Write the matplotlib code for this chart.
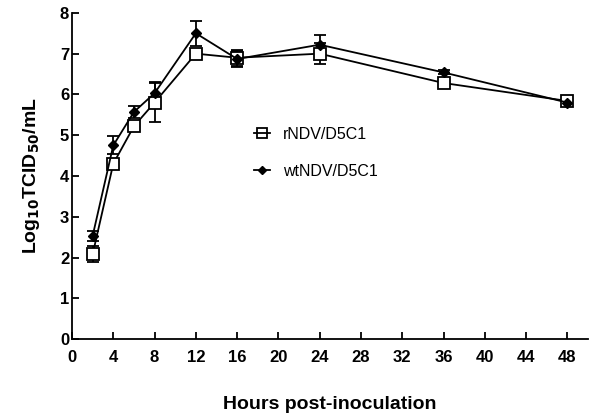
import matplotlib
matplotlib.use('Agg')
import matplotlib.pyplot as plt

plt.rcParams['font.family'] = ['Liberation Sans', 'DejaVu Sans']

# 시간 (hours post-inoculation)
hours = [2, 4, 6, 8, 12, 16, 24, 36, 48]

# rNDV/D5C1
r_mean = [2.08, 4.30, 5.22, 5.80, 7.00, 6.90, 7.00, 6.28, 5.84]
r_err = [0.20, 0.10, 0.10, 0.48, 0.12, 0.20, 0.25, 0.12, 0.05]

# wtNDV/D5C1
wt_mean = [2.53, 4.75, 5.57, 6.03, 7.50, 6.87, 7.22, 6.54, 5.80]
wt_err = [0.12, 0.22, 0.14, 0.27, 0.30, 0.20, 0.25, 0.05, 0.05]

fig = plt.figure(figsize=(6, 4.16), dpi=100)
ax = fig.add_axes([0.12, 0.185, 0.86, 0.784])

# 에러바
ax.errorbar(hours, r_mean, yerr=r_err, fmt='none', ecolor='black',
            capsize=4, elinewidth=1.3, capthick=1.3, zorder=2)
ax.errorbar(hours, wt_mean, yerr=wt_err, fmt='none', ecolor='black',
            capsize=4, elinewidth=1.3, capthick=1.3, zorder=2)

# 선과 마커
ax.plot(hours, r_mean, color='black', lw=1.3, marker='s', ms=8.5,
        mfc='white', mec='black', mew=1.3, label='rNDV/D5C1', zorder=3)
ax.plot(hours, wt_mean, color='black', lw=1.3, marker='D', ms=5,
        mfc='black', mec='black', label='wtNDV/D5C1', zorder=4)

ax.set_xlim(0, 50)
ax.set_ylim(0, 8)
ax.set_xticks(range(0, 49, 4))
ax.set_yticks(range(0, 9))
for side in ['top', 'right']:
    ax.spines[side].set_visible(False)
for side in ['left', 'bottom']:
    ax.spines[side].set_linewidth(1.3)
ax.tick_params(direction='in', length=5, width=1.3, labelsize=12)
ax.tick_params(axis='x', pad=8)
ax.tick_params(axis='y', pad=2)
for lab in ax.get_xticklabels() + ax.get_yticklabels():
    lab.set_fontweight('bold')

ax.set_xlabel('Hours post-inoculation', fontsize=14, fontweight='bold', labelpad=22)
ax.set_ylabel('Log$_{\\mathbf{10}}$TCID$_{\\mathbf{50}}$/mL', fontsize=14,
              fontweight='bold', labelpad=13)

leg = ax.legend(loc='center left', bbox_to_anchor=(0.353, 0.571), frameon=False,
                fontsize=11.5, handlelength=1.0, labelspacing=1.4,
                handletextpad=0.8, borderpad=0, borderaxespad=0, markerscale=0.85)
# 범례의 네모 마커는 속이 비어 선이 보이게
leg.legend_handles[0].set_markerfacecolor('none')

fig.savefig('out.png', dpi=100)
